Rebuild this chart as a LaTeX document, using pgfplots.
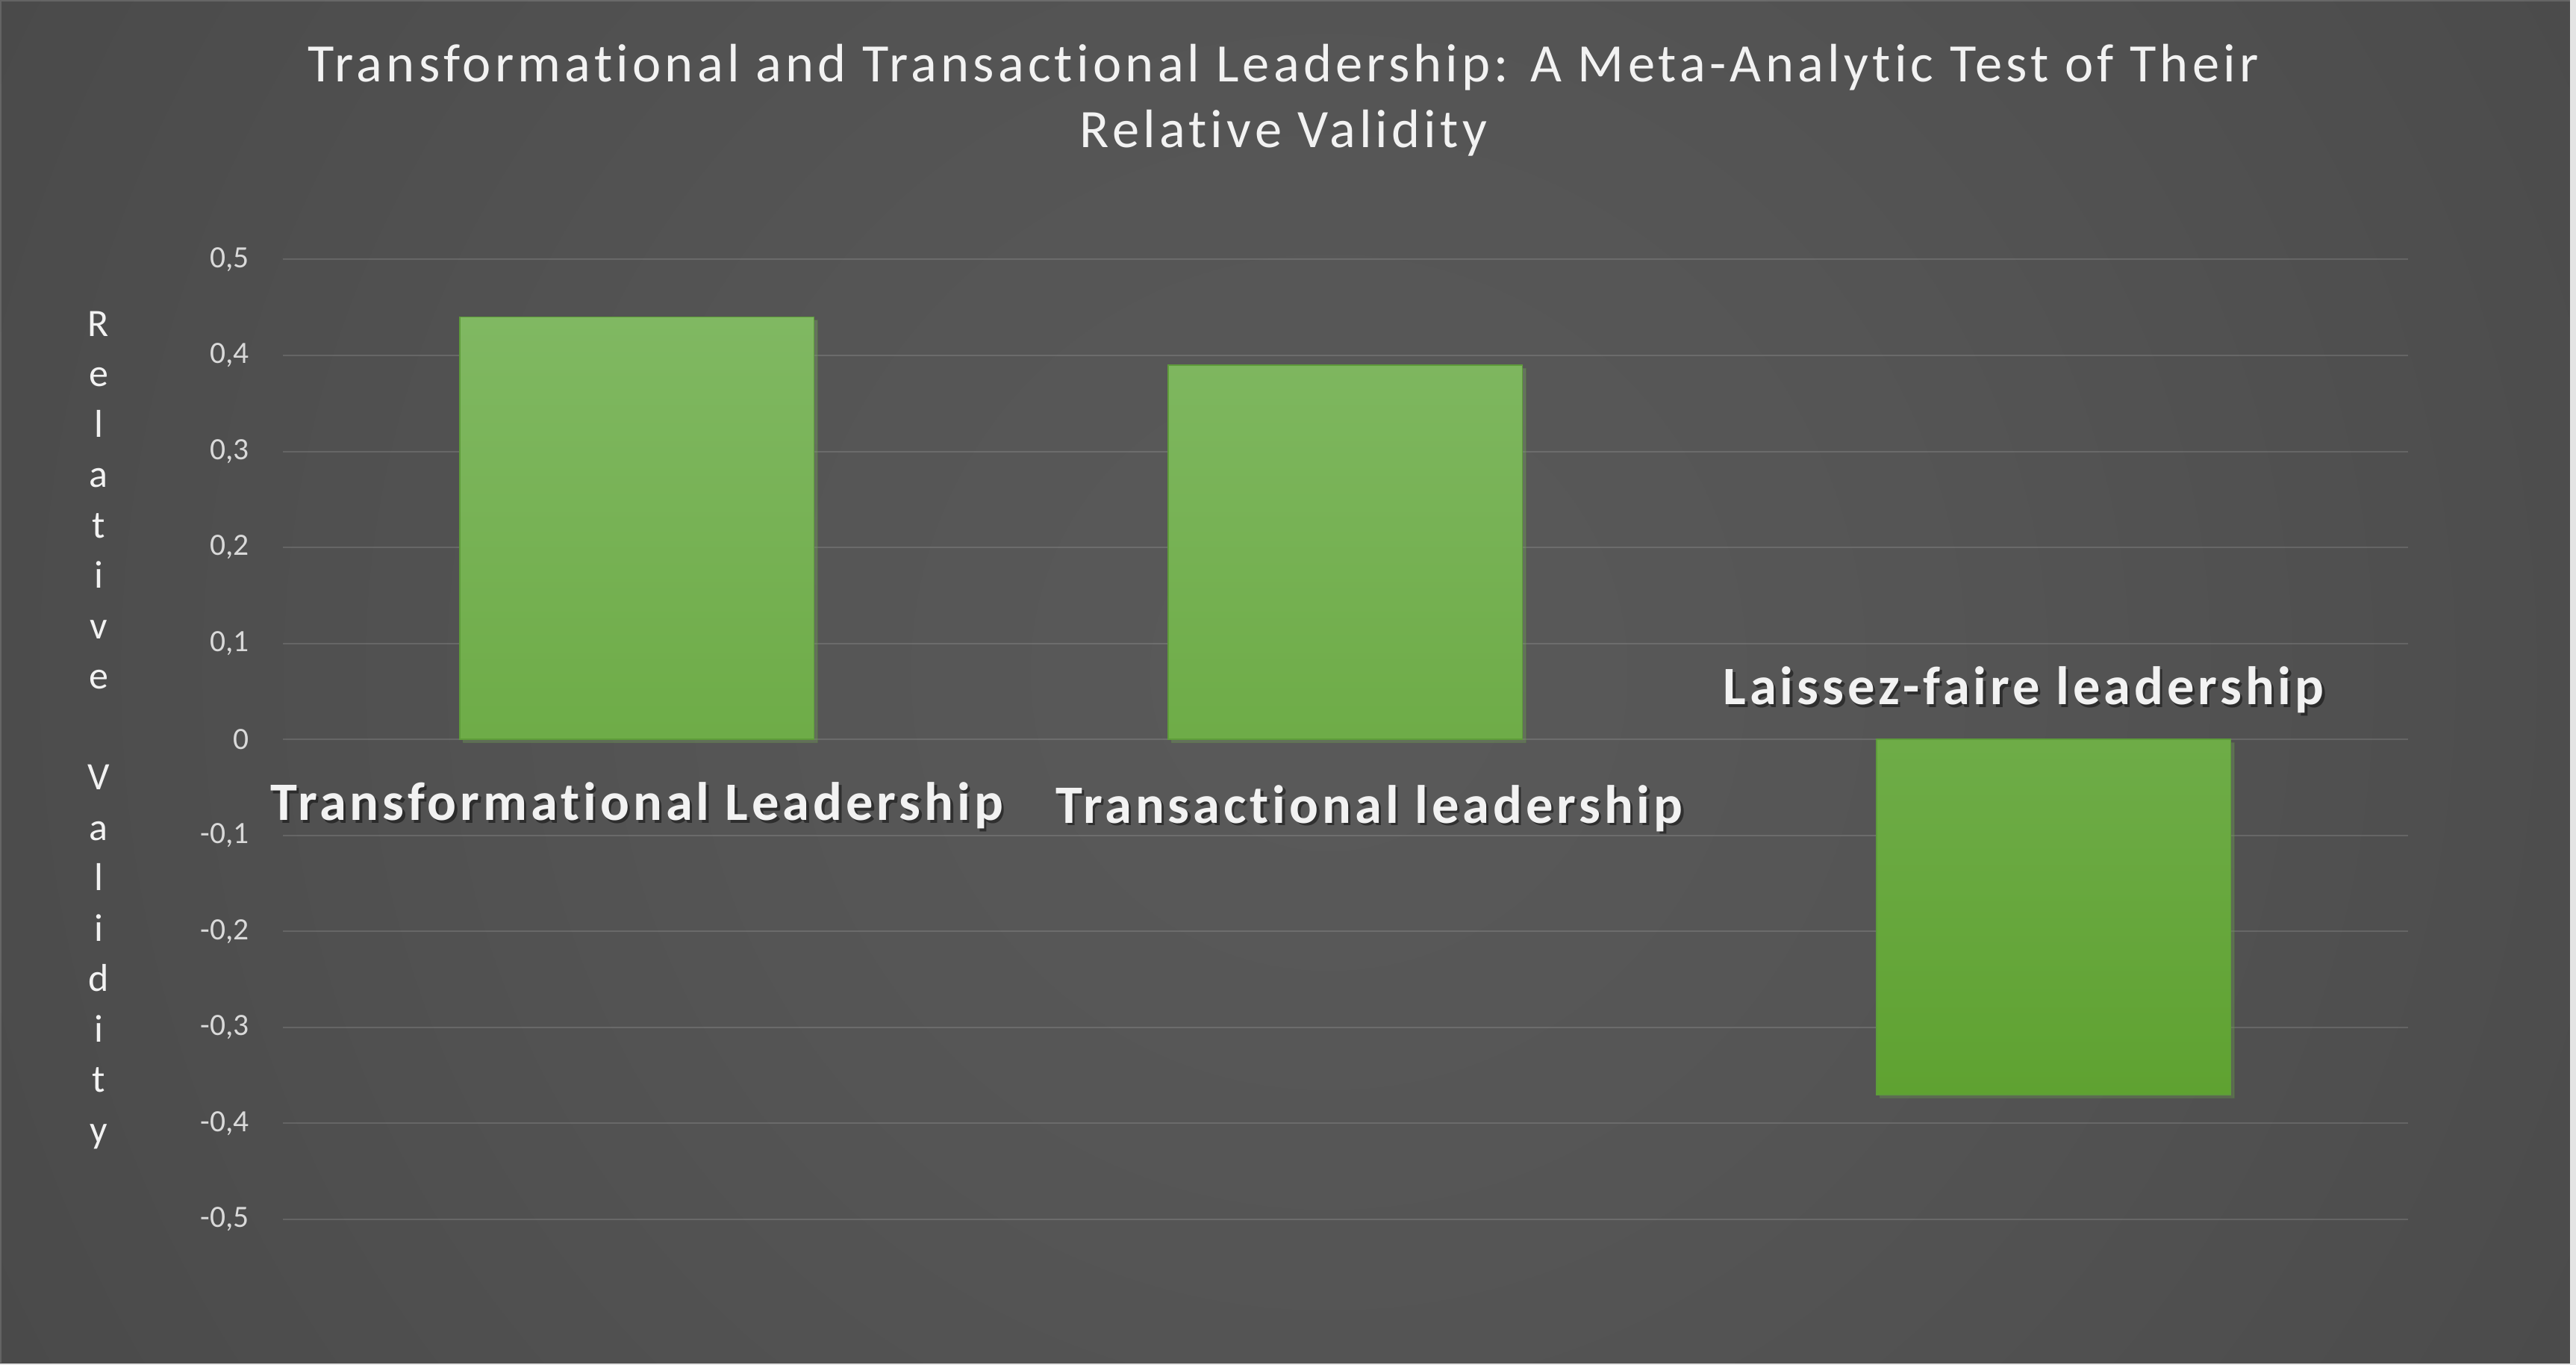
\documentclass[border=0pt]{standalone}
\usepackage{fontspec}
\setmainfont{Carlito}[Ligatures={NoCommon}]
\usepackage{pgfplots}
\pgfplotsset{compat=1.18}
\usetikzlibrary{shadows}
\definecolor{bartop}{HTML}{80B862}
\definecolor{barbot}{HTML}{5FA231}
\definecolor{baredge}{HTML}{5E9C3A}
\definecolor{ticklab}{HTML}{D9D9D9}
\definecolor{labwhite}{HTML}{F2F2F2}
\definecolor{edgegray}{HTML}{E4E4E4}
\definecolor{bga}{HTML}{5A5A5A}
\definecolor{bgb}{HTML}{555555}
\definecolor{bgc}{HTML}{4A4A4A}
\definecolor{bgd}{HTML}{3A3A3A}
\definecolor{bge}{HTML}{303030}
\definecolor{bgf}{HTML}{282828}
\definecolor{bgg}{HTML}{222222}
\pgfdeclareradialshading{bgshade}{\pgfpoint{0bp}{0bp}}{color(0bp)=(bga); color(10bp)=(bgb); color(25bp)=(bgc); color(36bp)=(bgd); color(43bp)=(bge); color(50bp)=(bgf); color(71bp)=(bgg)}
\begin{document}
\begin{tikzpicture}
\useasboundingbox (0,0) rectangle (690.2pt,365.6pt);
\begin{scope}
\clip (0,0) rectangle (690.2pt,365.6pt);
\path[shading=bgshade] (-44pt,-214.4pt) rectangle (756pt,585.6pt);
\end{scope}
\fill[edgegray] (688.6pt,0) rectangle (690.2pt,365.6pt);
\fill[edgegray] (0,0) rectangle (690.2pt,0.3pt);
\draw[color=white, opacity=0.15, line width=0.4pt] (0.2pt,0.5pt) -- (0.2pt,365.4pt) -- (688.6pt,365.4pt);
% title
\node[anchor=base, text=labwhite, inner sep=0pt, font=\fontsize{14.5}{17.6}\selectfont\addfontfeatures{LetterSpace=7.2}] at (343.9pt,343.7pt) {Transformational and Transactional Leadership: A Meta-Analytic Test of Their};
\node[anchor=base, text=labwhite, inner sep=0pt, font=\fontsize{14.5}{17.6}\selectfont\addfontfeatures{LetterSpace=7.2}] at (343.9pt,326.1pt) {Relative Validity};
% y label
\node[anchor=north, align=center, inner sep=0pt, text=labwhite, font=\fontsize{10.4}{13.5}\selectfont] at (26.4pt,282.4pt) {R\\e\\l\\a\\t\\i\\v\\e\\\mbox{}\\V\\a\\l\\i\\d\\i\\t\\y};
\begin{axis}[
  at={(75.7pt,39.0pt)}, anchor=south west,
  scale only axis, width=569.4pt, height=257.1pt,
  xmin=-0.5, xmax=2.5, ymin=-0.5, ymax=0.5,
  axis line style={draw=none}, major tick length=0pt,
  xtick=\empty,
  ytick={-0.5,-0.4,-0.3,-0.2,-0.1,0,0.1,0.2,0.3,0.4,0.5},
  yticklabels={{-0,5},{-0,4},{-0,3},{-0,2},{-0,1},{0},{0,1},{0,2},{0,3},{0,4},{0,5}},
  yticklabel style={anchor=east, inner sep=0pt, xshift=-8.7pt, text=ticklab, font=\fontsize{8.3}{10}\selectfont},
  ymajorgrids,
  major grid style={draw=white, draw opacity=0.13, line width=0.4pt},
  clip=false,
]
\addplot[ybar, bar width=0.5, draw=baredge, line width=0.3pt, top color=bartop, bottom color=barbot,
  drop shadow={shadow xshift=0.9pt, shadow yshift=-0.9pt, opacity=0.22}]
  coordinates {(0,0.44) (1,0.39) (2,-0.37)};
% category labels with shadow
\node[anchor=base, inner sep=0pt, text=black, opacity=0.45, font=\fontsize{14.5}{17}\selectfont\bfseries\addfontfeatures{LetterSpace=6.8}] at ([shift={(0.7pt,-0.7pt)}]axis cs:0.0,-0.0844) {Transformational Leadership};
\node[anchor=base, inner sep=0pt, text=labwhite, font=\fontsize{14.5}{17}\selectfont\bfseries\addfontfeatures{LetterSpace=6.8}] at (axis cs:0.0,-0.0844) {Transformational Leadership};
\node[anchor=base, inner sep=0pt, text=black, opacity=0.45, font=\fontsize{14.5}{17}\selectfont\bfseries\addfontfeatures{LetterSpace=6.8}] at ([shift={(0.7pt,-0.7pt)}]axis cs:1.034,-0.0873) {Transactional leadership};
\node[anchor=base, inner sep=0pt, text=labwhite, font=\fontsize{14.5}{17}\selectfont\bfseries\addfontfeatures{LetterSpace=6.8}] at (axis cs:1.034,-0.0873) {Transactional leadership};
\node[anchor=base, inner sep=0pt, text=black, opacity=0.45, font=\fontsize{14.5}{17}\selectfont\bfseries\addfontfeatures{LetterSpace=6.8}] at ([shift={(0.7pt,-0.7pt)}]axis cs:1.958,0.036) {Laissez-faire leadership};
\node[anchor=base, inner sep=0pt, text=labwhite, font=\fontsize{14.5}{17}\selectfont\bfseries\addfontfeatures{LetterSpace=6.8}] at (axis cs:1.958,0.036) {Laissez-faire leadership};
\end{axis}
\end{tikzpicture}
\end{document}
